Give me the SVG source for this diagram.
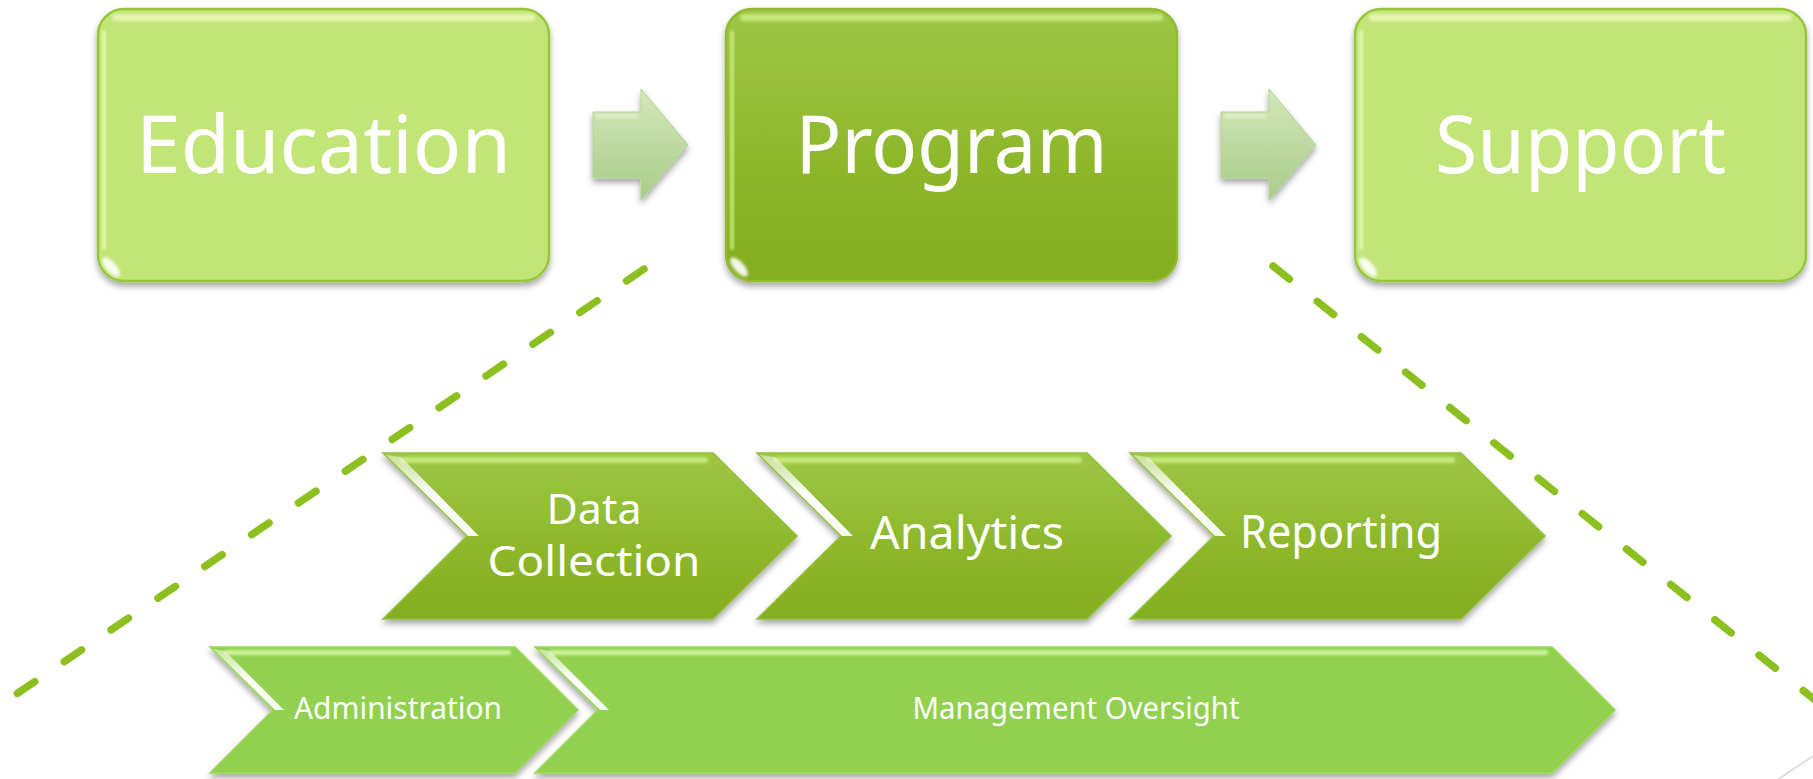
<svg xmlns="http://www.w3.org/2000/svg" width="1813" height="779" viewBox="0 0 1813 779">
<defs>
<style>
.t{font-family:"Noto Sans","Open Sans","DejaVu Sans",sans-serif;fill:#ffffff;text-anchor:middle}
.big{font-size:80px}
.mid{font-size:45px}
.mid2{font-size:42px}
.sm{font-size:30px}
.dash{fill:none;stroke:#8cc020;stroke-width:7.5;stroke-linecap:round;stroke-dasharray:21 35.6}
.light{fill:#c2e577;stroke:#97c63c;stroke-width:2.5}
.dark{fill:url(#gDark);stroke:#8fba30;stroke-width:2.5}
.chevD{fill:url(#gDark);stroke:#93c03a;stroke-width:1.5}
.chevL{fill:#92d050;stroke:#9ad85a;stroke-width:1.5}
.arr{fill:url(#gArr);stroke:#b0d394;stroke-width:1}
.topHL{fill:#effdc4;opacity:0.75}
.topHLd{fill:#cdef84;opacity:0.85}
.topHLl{fill:#d8f8a6;opacity:0.9}
.diag{fill:url(#gDiag)}
.blob{fill:#ffffff;opacity:0.9}
</style>
<linearGradient id="gDark" x1="0" y1="0" x2="0" y2="1">
<stop offset="0" stop-color="#9dc745"/>
<stop offset="0.55" stop-color="#8db82c"/>
<stop offset="1" stop-color="#84ad20"/>
</linearGradient>
<linearGradient id="gArr" x1="0" y1="0" x2="0" y2="1">
<stop offset="0" stop-color="#d2e8ba"/>
<stop offset="1" stop-color="#a9cc88"/>
</linearGradient>
<linearGradient id="gDiag" x1="0" y1="0" x2="0" y2="1">
<stop offset="0" stop-color="#ffffff" stop-opacity="0.45"/>
<stop offset="0.5" stop-color="#ffffff" stop-opacity="1"/>
<stop offset="1" stop-color="#ffffff" stop-opacity="0.9"/>
</linearGradient>
<filter id="sh" x="-10%" y="-10%" width="120%" height="135%">
<feDropShadow dx="0" dy="4" stdDeviation="3" flood-color="#000000" flood-opacity="0.35"/>
</filter>
<filter id="blur" x="-5%" y="-50%" width="110%" height="200%">
<feGaussianBlur stdDeviation="1.5"/>
</filter>
<filter id="blur2" x="-50%" y="-50%" width="200%" height="200%">
<feGaussianBlur stdDeviation="1.8"/>
</filter>
</defs>

<rect width="1813" height="779" fill="#ffffff"/>

<g id="connectors">
<line class="dash" x1="644" y1="269" x2="12" y2="697"/>
<line class="dash" x1="1273" y1="266" x2="1840" y2="720"/>
<line x1="1777" y1="780" x2="1813" y2="756" stroke="#d4d4d4" stroke-width="1.5"/>
<g filter="url(#sh)">
<path class="arr" d="M593,112 L641,112 L641,89 L688,145 L641,200 L641,178 L593,178 Z"/>
<path class="arr" d="M1221,112 L1269,112 L1269,89 L1316,145 L1269,200 L1269,178 L1221,178 Z"/>
</g>
<rect x="596" y="114" width="42" height="4" fill="#e4f2d4" opacity="0.8" filter="url(#blur)"/>
<rect x="1224" y="114" width="42" height="4" fill="#e4f2d4" opacity="0.8" filter="url(#blur)"/>
</g>

<g id="education">
<rect class="light" x="98" y="9" width="451" height="272" rx="26" filter="url(#sh)"/>
<rect class="topHL" x="112" y="14" width="423" height="7" rx="3.5" filter="url(#blur)"/>
<rect class="topHL" x="102" y="30" width="4" height="220" rx="2" opacity="0.5" filter="url(#blur)"/>
<ellipse class="blob" cx="111" cy="267" rx="12" ry="5" transform="rotate(48 111 267)" filter="url(#blur2)"/>
<text class="t big" x="323.5" y="173" textLength="375" lengthAdjust="spacingAndGlyphs">Education</text>
</g>

<g id="program">
<rect class="dark" x="726" y="9" width="451" height="272" rx="26" filter="url(#sh)"/>
<rect class="topHLd" x="740" y="14" width="423" height="7" rx="3.5" filter="url(#blur)"/>
<rect class="topHLd" x="730" y="30" width="4" height="220" rx="2" opacity="0.5" filter="url(#blur)"/>
<ellipse class="blob" cx="739" cy="267" rx="12" ry="5" transform="rotate(48 739 267)" filter="url(#blur2)"/>
<text class="t big" x="951.5" y="173" textLength="312" lengthAdjust="spacingAndGlyphs">Program</text>
</g>

<g id="support">
<rect class="light" x="1355" y="9" width="451" height="272" rx="26" filter="url(#sh)"/>
<rect class="topHL" x="1369" y="14" width="423" height="7" rx="3.5" filter="url(#blur)"/>
<rect class="topHL" x="1359" y="30" width="4" height="220" rx="2" opacity="0.5" filter="url(#blur)"/>
<ellipse class="blob" cx="1368" cy="267" rx="12" ry="5" transform="rotate(48 1368 267)" filter="url(#blur2)"/>
<text class="t big" x="1580.5" y="173" textLength="291" lengthAdjust="spacingAndGlyphs">Support</text>
</g>

<g id="data-collection">
<path class="chevD" d="M383,453 L713,453 L797,536 L713,619 L383,619 L467,536 Z" filter="url(#sh)"/>
<rect class="topHLd" x="400" y="457" width="308" height="6" rx="3" filter="url(#blur)"/>
<polygon class="diag" points="386,455 401,457 479,536 468,536"/>
<text class="t mid2" x="594" y="524" textLength="95" lengthAdjust="spacingAndGlyphs">Data</text>
<text class="t mid2" x="594" y="576" textLength="213" lengthAdjust="spacingAndGlyphs">Collection</text>
</g>

<g id="analytics">
<path class="chevD" d="M757,453 L1087,453 L1171,536 L1087,619 L757,619 L841,536 Z" filter="url(#sh)"/>
<rect class="topHLd" x="774" y="457" width="308" height="6" rx="3" filter="url(#blur)"/>
<polygon class="diag" points="760,455 775,457 853,536 842,536"/>
<text class="t mid" x="967" y="549" textLength="194" lengthAdjust="spacingAndGlyphs">Analytics</text>
</g>

<g id="reporting">
<path class="chevD" d="M1130,453 L1461,453 L1545,536 L1461,619 L1130,619 L1214,536 Z" filter="url(#sh)"/>
<rect class="topHLd" x="1147" y="457" width="308" height="6" rx="3" filter="url(#blur)"/>
<polygon class="diag" points="1133,455 1148,457 1226,536 1215,536"/>
<text class="t mid" x="1341" y="548" textLength="202" lengthAdjust="spacingAndGlyphs">Reporting</text>
</g>

<g id="administration">
<path class="chevL" d="M210,647 L515,647 L578,710 L515,773 L210,773 L273,710 Z" filter="url(#sh)"/>
<rect class="topHLl" x="224" y="650" width="287" height="5" rx="2.5" filter="url(#blur)"/>
<polygon class="diag" points="213,649 225,651 284,710 275,710"/>
<text class="t sm" x="398" y="719" textLength="208" lengthAdjust="spacingAndGlyphs">Administration</text>
</g>

<g id="management-oversight">
<path class="chevL" d="M535,647 L1552,647 L1615,710 L1552,773 L535,773 L598,710 Z" filter="url(#sh)"/>
<rect class="topHLl" x="549" y="650" width="999" height="5" rx="2.5" filter="url(#blur)"/>
<polygon class="diag" points="538,649 550,651 609,710 600,710"/>
<text class="t sm" x="1076" y="719" textLength="327" lengthAdjust="spacingAndGlyphs">Management Oversight</text>
</g>
</svg>
